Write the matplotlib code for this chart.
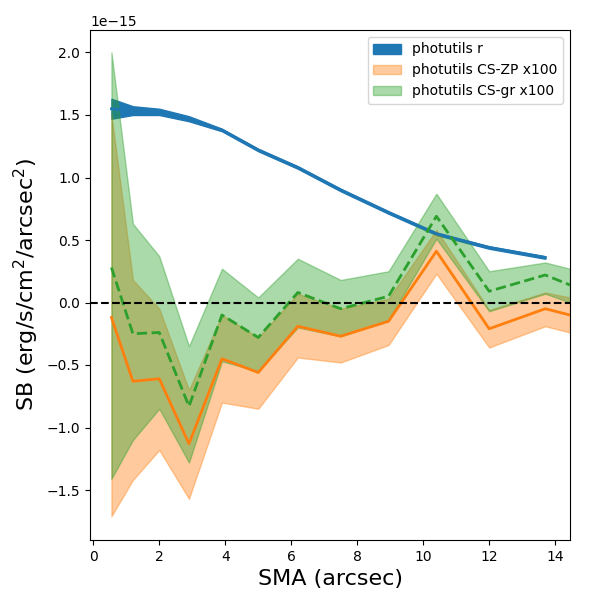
import matplotlib
matplotlib.use("Agg")
import matplotlib.pyplot as plt
import numpy as np

sma = np.array([0.55, 1.2, 2.0, 2.9, 3.9, 5.0, 6.2, 7.5, 8.95, 10.4, 12.0, 13.7, 14.45])

# photutils r (first 12 points)
r_mid = np.array([1.55, 1.53, 1.52, 1.47, 1.38, 1.22, 1.08, 0.90, 0.72, 0.55, 0.44, 0.36])
r_lo = np.array([1.47, 1.50, 1.50, 1.45, 1.37, 1.21, 1.07, 0.89, 0.71, 0.54, 0.43, 0.35])
r_hi = np.array([1.63, 1.57, 1.55, 1.49, 1.39, 1.23, 1.09, 0.91, 0.73, 0.56, 0.45, 0.37])

zp_mid = np.array([-0.12, -0.63, -0.61, -1.13, -0.45, -0.56, -0.19, -0.27, -0.15, 0.41, -0.21, -0.05, -0.10])
zp_lo = np.array([-1.71, -1.42, -1.18, -1.57, -0.80, -0.85, -0.44, -0.48, -0.34, 0.23, -0.36, -0.19, -0.24])
zp_hi = np.array([1.50, 0.18, -0.05, -0.70, -0.10, -0.28, 0.07, -0.05, 0.03, 0.58, -0.06, 0.08, 0.04])

gr_mid = np.array([0.28, -0.25, -0.24, -0.83, -0.10, -0.28, 0.08, -0.05, 0.05, 0.69, 0.09, 0.22, 0.14])
gr_lo = np.array([-1.41, -1.10, -0.85, -1.28, -0.47, -0.55, -0.20, -0.27, -0.14, 0.51, -0.07, 0.07, 0.00])
gr_hi = np.array([2.00, 0.63, 0.37, -0.35, 0.27, 0.04, 0.35, 0.18, 0.25, 0.87, 0.25, 0.32, 0.27])

s = 1e-15
fig, ax = plt.subplots(figsize=(6, 6), dpi=100)
n = len(r_mid)
ax.fill_between(sma[:n], r_lo * s, r_hi * s, color="C0", label="photutils r")
ax.plot(sma[:n], r_mid * s, color="C0", lw=2)
ax.fill_between(sma, zp_lo * s, zp_hi * s, color="C1", alpha=0.4, label="photutils CS-ZP x100")
ax.plot(sma, zp_mid * s, color="C1", lw=2)
ax.fill_between(sma, gr_lo * s, gr_hi * s, color="C2", alpha=0.4, label="photutils CS-gr x100")
ax.plot(sma, gr_mid * s, color="C2", lw=2, ls="--")
ax.axhline(0, color="k", ls="--")

ax.set_xlim(-0.1, 14.45)
ax.set_ylim(-1.9e-15, 2.18e-15)
ax.set_xlabel("SMA (arcsec)", fontsize=16)
ax.set_ylabel("SB (erg/s/cm$^2$/arcsec$^2$)", fontsize=16)
ax.legend(loc="upper right")
fig.subplots_adjust(left=0.15, right=0.95, top=0.95, bottom=0.1)
plt.savefig("out.png", dpi=100)
